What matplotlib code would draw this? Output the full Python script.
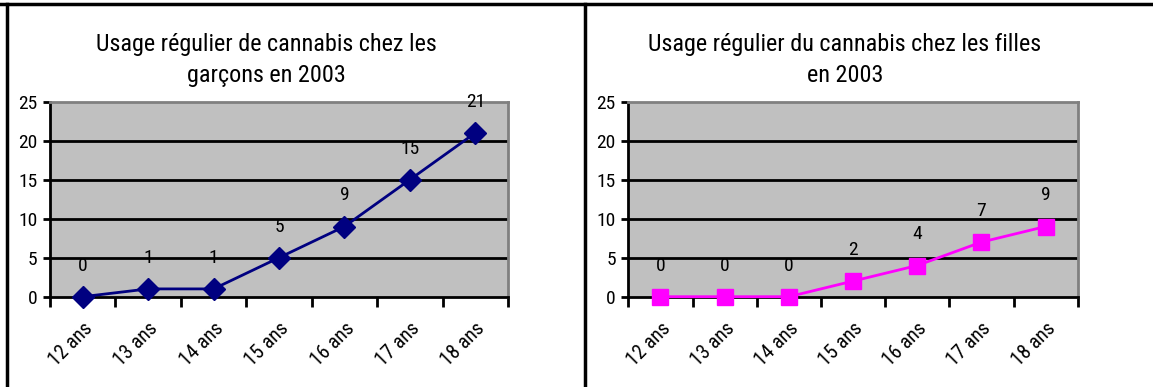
import matplotlib
matplotlib.use('Agg')
import matplotlib.pyplot as plt
from matplotlib.lines import Line2D

plt.rcParams['font.family'] = ['Roboto Condensed', 'PT Sans Narrow', 'DejaVu Sans']
plt.rcParams['font.weight'] = 'normal'

ages = ["12 ans", "13 ans", "14 ans", "15 ans", "16 ans", "17 ans", "18 ans"]
garcons = [0, 1, 1, 5, 9, 15, 21]
filles = [0, 0, 0, 2, 4, 7, 9]
titre_garcons = "Usage régulier de cannabis chez les\ngarçons en 2003"
titre_filles = "Usage régulier du cannabis chez les filles\nen 2003"

W, H = 1153, 387
fig = plt.figure(figsize=(W / 100, H / 100), dpi=100)


def px_axes(x0, y0, x1, y1):
    # pixel box (top-left origin) -> figure fraction
    return fig.add_axes([x0 / W, 1 - y1 / H, (x1 - x0) / W, (y1 - y0) / H])


def draw_panel(ax, values, color, marker, msize, title, title_x):
    x = range(len(values))
    ax.set_facecolor('#C0C0C0')
    for v in [5, 10, 15, 20]:
        ax.axhline(v, color='black', lw=2, zorder=1)
    ax.plot(x, values, color=color, lw=2, marker=marker, markersize=msize,
            markerfacecolor=color, markeredgecolor=color, zorder=3, clip_on=False)
    for i, v in enumerate(values):
        ax.annotate(str(v), (i, v), xytext=(0, 31), textcoords='offset pixels',
                    ha='center', va='center', fontsize=14)
    ax.set_xlim(-0.5, len(values) - 0.5)
    ax.set_ylim(0, 25)
    ax.set_yticks([0, 5, 10, 15, 20, 25])
    ax.tick_params(axis='y', length=5, width=2, pad=4, labelsize=14)
    ax.set_xticks([i - 0.5 for i in range(len(values) + 1)])
    ax.set_xticklabels([])
    ax.tick_params(axis='x', which='major', length=7, width=2)
    ax.set_xticks(list(x), minor=True)
    ax.set_xticklabels(ages, minor=True, rotation=45, ha='right', va='top',
                       rotation_mode='anchor', fontsize=14.5)
    ax.tick_params(axis='x', which='minor', length=0, pad=16)
    for s in ['left', 'bottom']:
        ax.spines[s].set_color('black')
        ax.spines[s].set_linewidth(2)
    for s in ['top', 'right']:
        ax.spines[s].set_color('#808080')
        ax.spines[s].set_linewidth(2)
    fig.text(title_x / W, 1 - 60 / H, title, ha='center', va='center',
             fontsize=17.4, linespacing=1.4)


ax1 = px_axes(50, 101.7, 508, 296.7)
draw_panel(ax1, garcons, '#000080', 'D', 11, titre_garcons, 266)
ax2 = px_axes(628.3, 101.7, 1077.7, 296.7)
draw_panel(ax2, filles, '#FF00FF', 's', 11.5, titre_filles, 845)

# panel frames
fig.add_artist(Line2D([0, 1], [1 - 4 / H, 1 - 4 / H], color='black', lw=2.5))
fig.add_artist(Line2D([7 / W, 7 / W], [0, 1 - 4 / H], color='black', lw=2.5))
fig.add_artist(Line2D([584.5 / W, 584.5 / W], [0, 1 - 4 / H], color='black', lw=2.5))

fig.savefig('out.png', dpi=100)
